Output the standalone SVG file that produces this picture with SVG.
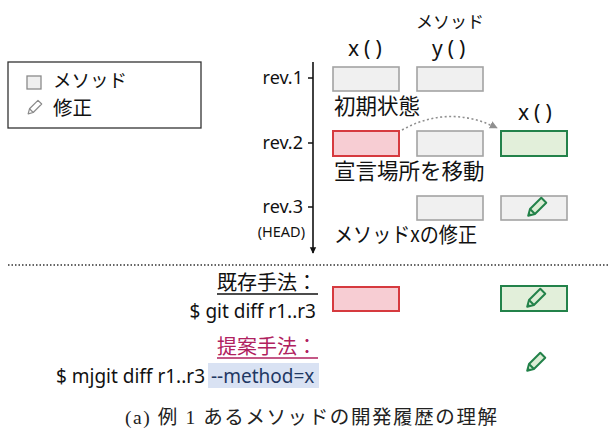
<svg xmlns="http://www.w3.org/2000/svg" width="609" height="432" viewBox="0 0 609 432">
<style>
.jp{font-family:"Noto Sans CJK JP","Noto Sans",sans-serif;fill:#111}
.lat{font-family:"Noto Sans","Noto Sans CJK JP",sans-serif;fill:#111}
.gray{fill:#f0f0f0;stroke:#a3a3a3;stroke-width:1.6}
.red{fill:#f7cdd3;stroke:#d63a3f;stroke-width:2}
.green{fill:#e2efda;stroke:#23824a;stroke-width:2}
.cap{font-family:"Liberation Serif","Noto Sans CJK JP",serif;fill:#222}
</style>
<defs>
<g id="pencil">
<path d="M-7.8,7.8 L-6,1.06 L5.3,-10.25 L10.25,-5.3 L-1.06,6 Z" fill="#dcedd5" stroke="#23824a" stroke-width="2" stroke-linejoin="round"/>
<path d="M-6,1.06 L-1.06,6" stroke="#23824a" stroke-width="2"/>
<path d="M-7.8,7.8 L-7,4.3 L-4.3,7 Z" fill="#23824a"/>
</g>
<g id="pencil-gray">
<path d="M-7.8,7.8 L-6,1.06 L5.3,-10.25 L10.25,-5.3 L-1.06,6 Z" fill="#fff" stroke="#8a8a8a" stroke-width="1.6" stroke-linejoin="round"/>
<path d="M-6,1.06 L-1.06,6" stroke="#8a8a8a" stroke-width="1.6"/>
</g>
<marker id="arrGray" viewBox="0 0 10 10" refX="9" refY="5" markerWidth="5" markerHeight="5" orient="auto">
<path d="M0,0 L10,5 L0,10 Z" fill="#8f8f8f"/>
</marker>
<marker id="arrBlack" viewBox="0 0 10 10" refX="9" refY="5" markerWidth="4" markerHeight="5" orient="auto">
<path d="M0,0 L10,5 L0,10 Z" fill="#111"/>
</marker>
</defs>

<g id="legend">
<rect x="8" y="62" width="193" height="66" fill="#fff" stroke="#333" stroke-width="1.3"/>
<rect x="27" y="76" width="14" height="13" fill="#efefef" stroke="#8a8a8a" stroke-width="1.3"/>
<text class="jp" x="53" y="87" font-size="18.5">メソッド</text>
<use href="#pencil-gray" transform="translate(34,108) scale(0.75)"/>
<text class="jp" x="53" y="115" font-size="19.5">修正</text>
</g>

<g id="timeline">
<line x1="313" y1="62" x2="313" y2="253" stroke="#111" stroke-width="1.6" marker-end="url(#arrBlack)"/>
<line x1="308" y1="78" x2="313" y2="78" stroke="#111" stroke-width="1.5"/>
<line x1="308" y1="143" x2="313" y2="143" stroke="#111" stroke-width="1.5"/>
<line x1="308" y1="207" x2="313" y2="207" stroke="#111" stroke-width="1.5"/>
<text class="lat" x="303" y="84" font-size="18" text-anchor="end">rev.1</text>
<text class="lat" x="303" y="149" font-size="18" text-anchor="end">rev.2</text>
<text class="lat" x="303" y="213" font-size="18" text-anchor="end">rev.3</text>
<text class="lat" x="305" y="237" font-size="14.5" text-anchor="end">(HEAD)</text>
</g>

<g id="headers">
<text class="jp" x="450" y="28" font-size="17" text-anchor="middle">メソッド</text>
<text class="lat" x="348" y="56" font-size="21" letter-spacing="5">x()</text>
<text class="lat" x="432" y="56" font-size="21" letter-spacing="5">y()</text>
<text class="lat" x="518" y="120" font-size="21" letter-spacing="5">x()</text>
</g>

<g id="rev1">
<rect class="gray" x="333" y="67" width="66" height="24"/>
<rect class="gray" x="417" y="67" width="66" height="24"/>
<text class="jp" x="334" y="114" font-size="21.5">初期状態</text>
</g>

<g id="rev2">
<rect class="red" x="333" y="131" width="66" height="25"/>
<rect class="gray" x="417" y="131" width="66" height="25"/>
<rect class="green" x="501" y="131" width="66" height="25"/>
<text class="jp" x="334" y="179" font-size="21.5">宣言場所を移動</text>
</g>

<g id="rev3">
<rect class="gray" x="417" y="196" width="66" height="24"/>
<rect class="gray" x="501" y="196" width="66" height="24"/>
<use href="#pencil" transform="translate(536,208)"/>
<text class="jp" x="334" y="242" font-size="21" textLength="143" lengthAdjust="spacingAndGlyphs">メソッドxの修正</text>
</g>

<g id="connectors">
<path d="M402,130 Q449,104 497,128" fill="none" stroke="#8f8f8f" stroke-width="1.6" stroke-dasharray="2,2.5" marker-end="url(#arrGray)"/>
<line x1="8" y1="265" x2="609" y2="265" stroke="#333" stroke-width="1.4" stroke-dasharray="1.5,2"/>
</g>

<g id="existing">
<text class="jp" x="317" y="290" font-size="20" text-anchor="end">既存手法：</text>
<line x1="217" y1="294" x2="318" y2="294" stroke="#111" stroke-width="1.5"/>
<text class="lat" x="316" y="318" font-size="19" text-anchor="end">$ git diff r1..r3</text>
<rect class="red" x="333" y="287" width="66" height="24"/>
<rect class="green" x="501" y="286" width="66" height="25"/>
<use href="#pencil" transform="translate(535,299)"/>
</g>

<g id="proposed">
<text class="jp" x="317" y="354" font-size="20" text-anchor="end" style="fill:#b0215e">提案手法：</text>
<line x1="217" y1="358" x2="318" y2="358" stroke="#b0215e" stroke-width="1.5"/>
<rect x="208" y="363" width="111" height="25" fill="#d9e2f3"/>
<text class="lat" x="205" y="383" font-size="19" text-anchor="end">$ mjgit diff r1..r3</text>
<text class="lat" x="211" y="383" font-size="19" style="fill:#1f3864">--method=x</text>
<use href="#pencil" transform="translate(535,363)"/>
</g>

<g id="caption">
<text class="cap" x="125" y="424" font-size="19.5" textLength="372" lengthAdjust="spacing">(a) 例 1 あるメソッドの開発履歴の理解</text>
</g>
</svg>
